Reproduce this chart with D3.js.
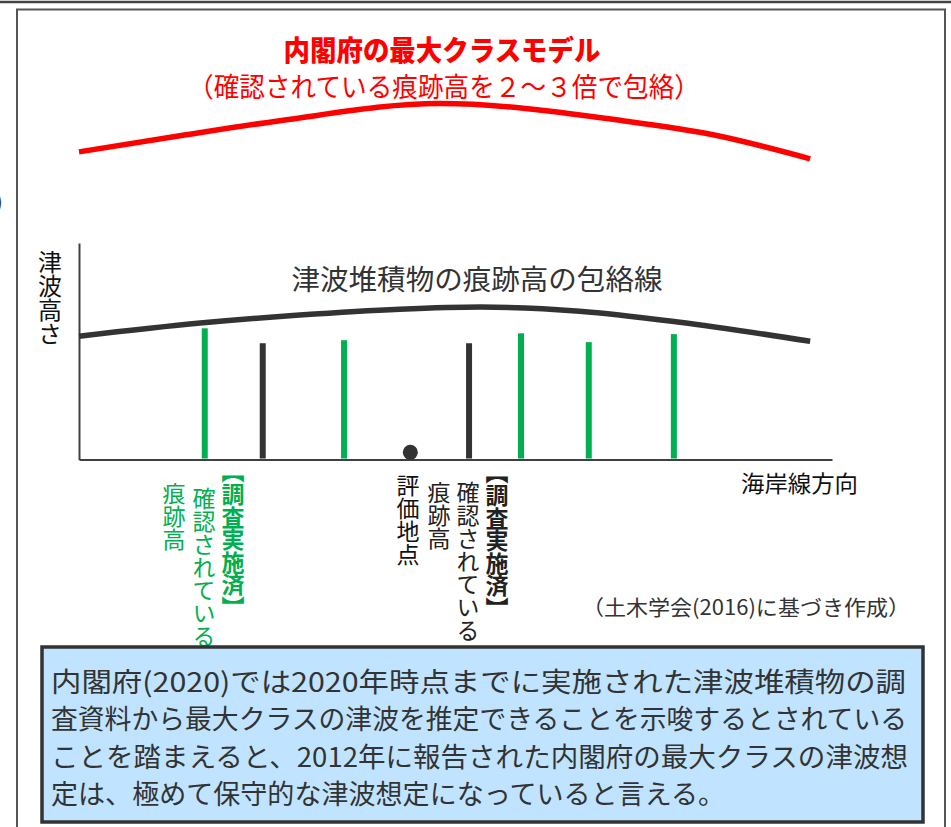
<!DOCTYPE html>
<html><head><meta charset="utf-8">
<script src="https://cdn.jsdelivr.net/npm/d3@7/dist/d3.min.js"></script>
<style>
html,body{margin:0;padding:0;background:#fff;}
svg{display:block;font-family:"Noto Sans CJK JP","Noto Sans",sans-serif;}
</style></head>
<body>
<script>
// ---- data (position along coastline 0-100, tsunami height in arbitrary units) ----
const greenPositions = [16.7, 35.2, 58.7, 67.7, 79.0];
const greenHeights   = [6.06, 5.51, 5.83, 5.42, 5.79];
const blackPositions = [24.4, 51.8];
const blackHeights   = [5.37, 5.37];
const evalPointPos = 44.0;
const evalPointHeight = 0.33;
const depositEnvX = [0, 16.1, 29.3, 42.6, 53.3, 66.5, 79.8, 97.1];
const depositEnvY = [5.69, 6.30, 6.67, 6.94, 7.04, 6.85, 6.34, 5.46];
const modelEnvX = [0, 13.4, 26.7, 47.9, 72.2, 84.2, 97.1];
const modelEnvY = [14.21, 14.95, 15.65, 16.44, 15.65, 15.00, 13.89];

const titleText = "内閣府の最大クラスモデル";
const subtitleText = "（確認されている痕跡高を２～３倍で包絡）";
const envLabel = "津波堆積物の痕跡高の包絡線";
const yLabel = "津波高さ";
const xLabel = "海岸線方向";
const sourceText = "（土木学会(2016)に基づき作成）";
const surveyedTag = "調査実施済";
const confirmedText = "確認されている";
const traceText = "痕跡高";
const evalText = "評価地点";
const noteLines = [
  "内閣府(2020)では2020年時点までに実施された津波堆積物の調",
  "査資料から最大クラスの津波を推定できることを示唆するとされている",
  "ことを踏まえると、2012年に報告された内閣府の最大クラスの津波想",
  "定は、極めて保守的な津波想定になっていると言える。"
];

// ---- drawing ----
const W = 951, H = 827;
const svg = d3.select("body").append("svg").attr("width", W).attr("height", H);

const GREEN = "#00b050", DARK = "#333333", RED = "#ff0000";

// frames
svg.append("line").attr("x1", 0).attr("x2", W).attr("y1", 2).attr("y2", 2)
  .attr("stroke", "#444").attr("stroke-width", 2.5);
svg.append("rect").attr("x", 17).attr("y", 9.5).attr("width", 928).attr("height", 840)
  .attr("fill", "none").attr("stroke", "#555").attr("stroke-width", 2);
svg.append("text").attr("x", -4).attr("y", 200).attr("dominant-baseline", "central")
  .attr("font-size", 20).attr("fill", DARK).text(")");

const x = d3.scaleLinear().domain([0, 100]).range([79, 832]);
const y = d3.scaleLinear().domain([0, 10]).range([459.5, 243]);

// axes (no ticks)
svg.append("g").attr("transform", `translate(0,${y(0)})`)
  .call(d3.axisBottom(x).tickValues([]).tickSizeOuter(0))
  .call(g => g.select(".domain").attr("stroke", "#404040").attr("stroke-width", 2));
svg.append("g").attr("transform", `translate(${x(0)},0)`)
  .call(d3.axisLeft(y).tickValues([]).tickSizeOuter(0))
  .call(g => g.select(".domain").attr("stroke", "#404040").attr("stroke-width", 2));

// envelopes
const line = d3.line().x(d => x(d[0])).y(d => y(d[1])).curve(d3.curveMonotoneX);
svg.append("path").attr("d", line(d3.zip(modelEnvX, modelEnvY)))
  .attr("fill", "none").attr("stroke", RED).attr("stroke-width", 5.5);
svg.append("path").attr("d", line(d3.zip(depositEnvX, depositEnvY)))
  .attr("fill", "none").attr("stroke", DARK).attr("stroke-width", 5.5);

// bars
const bw = 6;
svg.selectAll("rect.g").data(d3.zip(greenPositions, greenHeights)).join("rect")
  .attr("class", "g").attr("x", d => x(d[0]) - bw / 2).attr("width", bw)
  .attr("y", d => y(d[1])).attr("height", d => y(0) - y(d[1]) - 1).attr("fill", GREEN);
svg.selectAll("rect.k").data(d3.zip(blackPositions, blackHeights)).join("rect")
  .attr("class", "k").attr("x", d => x(d[0]) - bw / 2).attr("width", bw)
  .attr("y", d => y(d[1])).attr("height", d => y(0) - y(d[1]) - 1).attr("fill", DARK);
svg.append("circle").attr("cx", x(evalPointPos)).attr("cy", y(evalPointHeight))
  .attr("r", 7.5).attr("fill", DARK);

// horizontal texts
function htext(t, cx, cy, size, opts) {
  const o = Object.assign({anchor: "middle", fill: DARK, weight: "normal"}, opts || {});
  const el = svg.append("text").attr("x", cx).attr("y", cy)
    .attr("dominant-baseline", "central").attr("text-anchor", o.anchor)
    .attr("font-size", size).attr("font-weight", o.weight).attr("fill", o.fill).text(t);
  if (o.len) el.attr("textLength", o.len).attr("lengthAdjust", "spacingAndGlyphs");
  return el;
}
htext(titleText, 442, 49, 28, {fill: RED, weight: "900", len: 317});
htext(subtitleText, 444, 85, 27, {fill: RED, len: 512});
htext(envLabel, 477, 278, 28, {fill: DARK, len: 371});
htext(xLabel, 741, 482, 23, {anchor: "start", fill: "#111", len: 117});
htext(sourceText, 582, 606, 21, {anchor: "start", fill: DARK, len: 328});

// vertical texts
function vtext(t, cx, top, size, opts) {
  const o = Object.assign({fill: DARK, weight: "normal"}, opts || {});
  return svg.append("text").attr("x", cx).attr("y", top)
    .style("writing-mode", "vertical-rl")
    .attr("font-size", size).attr("font-weight", o.weight).attr("fill", o.fill).text(t);
}
vtext(yLabel, 50, 250, 24, {fill: "#111"});

function labelGroup(cxTag, cxConf, cxTrace, tagTop, confTop, traceTop, color) {
  const fs = 23, step = 22.6;
  vtext("【", cxTag, tagTop - fs, fs, {fill: color, weight: "bold"});
  vtext(surveyedTag, cxTag, tagTop, fs, {fill: color, weight: "bold"})
    .attr("textLength", step * 5).attr("lengthAdjust", "spacing");
  vtext("】", cxTag, tagTop + step * 5, fs, {fill: color, weight: "bold"});
  vtext(confirmedText, cxConf, confTop, fs, {fill: color});
  vtext(traceText, cxTrace, traceTop, fs, {fill: color});
}
labelGroup(233, 204, 174, 483, 487, 482, GREEN);
labelGroup(497, 468, 439, 484, 481, 481, "#222");
vtext(evalText, 408, 474, 23, {fill: "#111"});

// note box
svg.append("rect").attr("x", 42).attr("y", 647).attr("width", 881).attr("height", 175)
  .attr("fill", "#c0e4ff").attr("stroke", DARK).attr("stroke-width", 3.5);
const lineCenters = [680, 717, 755, 792];
const lineLens = [855, 856, 857, 674];
noteLines.forEach((t, i) => {
  htext(t, 51, lineCenters[i], 27, {anchor: "start", fill: DARK, len: lineLens[i]});
});
</script>
</body></html>
